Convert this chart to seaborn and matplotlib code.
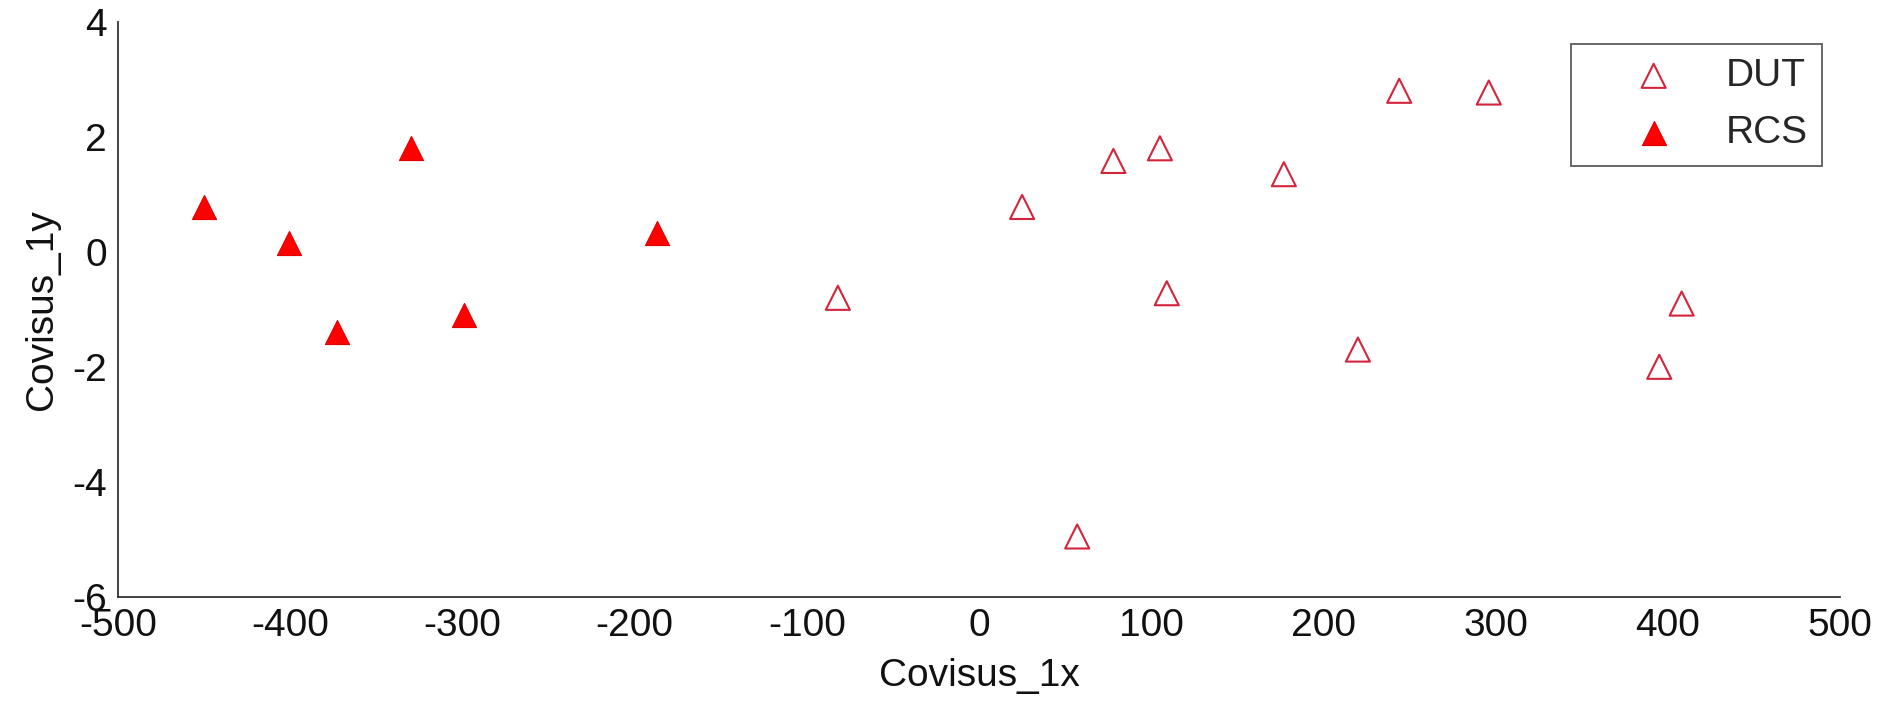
import pandas as pd
import matplotlib
matplotlib.use("Agg")
import matplotlib.pyplot as plt
import seaborn as sns

# -----------------------------
# Data
# -----------------------------
dut_x = [-82, 25, 57, 78, 105, 109, 177, 220, 244, 296, 395, 408]
dut_y = [-0.80, 0.78, -4.95, 1.58, 1.80, -0.72, 1.35, -1.70, 2.80, 2.77, -2.00, -0.90]

rcs_x = [-450, -401, -373, -330, -299, -187]
rcs_y = [0.78, 0.15, -1.40, 1.80, -1.10, 0.33]

x_ticks = [-500, -400, -300, -200, -100, 0, 100, 200, 300, 400, 500]
y_ticks = [-6, -4, -2, 0, 2, 4]

dut = pd.DataFrame({"x": dut_x, "y": dut_y})
rcs = pd.DataFrame({"x": rcs_x, "y": rcs_y})

# -----------------------------
# Style
# -----------------------------
sns.set_style("white")
plt.rcParams["font.family"] = ["Liberation Sans", "DejaVu Sans"]
plt.rcParams["axes.unicode_minus"] = False
plt.rcParams["xtick.direction"] = "in"
plt.rcParams["ytick.direction"] = "in"

fs = 28

fig = plt.figure(figsize=(18.83, 7.03), dpi=100)
ax = fig.add_axes([0.0627, 0.151, 0.9145, 0.818])

# open triangles for DUT, filled ones for RCS
sns.scatterplot(data=dut, x="x", y="y", marker="^", s=300,
                facecolors="none", edgecolor="#d4243c", linewidth=1.5,
                label="DUT", ax=ax)
sns.scatterplot(data=rcs, x="x", y="y", marker="^", s=300,
                color="#ff0000", edgecolor="#e00000", linewidth=0.8,
                label="RCS", ax=ax)

ax.set_xlim(-500, 500)
ax.set_ylim(-6, 4)
ax.set_xticks(x_ticks)
ax.set_yticks(y_ticks)
ax.tick_params(axis="both", labelsize=fs, length=13, width=1.1,
               color="#333333", labelcolor="#111111", pad=8)
ax.set_xlabel("Covisus_1x", fontsize=fs, color="#111111", labelpad=10)
ax.set_ylabel("Covisus_1y", fontsize=fs, color="#111111", labelpad=9)

sns.despine(ax=ax)
for side in ["left", "bottom"]:
    ax.spines[side].set_linewidth(1.3)
    ax.spines[side].set_color("#333333")

leg = ax.legend(loc="upper right", bbox_to_anchor=(0.9895, 0.962),
                fontsize=fs, frameon=True, fancybox=False,
                handlelength=3.5, handletextpad=0.1, labelspacing=0.55,
                borderpad=0.37, borderaxespad=0)
leg.get_frame().set_edgecolor("#333333")
leg.get_frame().set_linewidth(1.3)

plt.savefig("out.png", dpi=100)
plt.close()
